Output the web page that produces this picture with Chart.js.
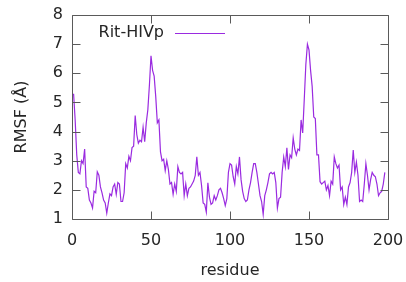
<!DOCTYPE html>
<html><head><meta charset="utf-8">
<script src="https://cdn.jsdelivr.net/npm/chart.js@4/dist/chart.umd.min.js"></script>
<style>html,body{margin:0;padding:0;background:#fff}#wrap{width:406px;height:282px}</style>
</head><body><div id="wrap"><canvas id="c" width="406" height="282"></canvas></div>
<script>
const seriesLabel = "Rit-HIVp";
const rmsf = [
 5.3,4.4,3.2,2.6,2.55,3.0,2.9,3.4,2.1,2.05,
 1.65,1.55,1.38,1.95,1.9,2.62,2.5,2.1,1.9,1.65,
 1.55,1.2,1.55,1.86,1.8,2.1,2.2,1.85,2.25,2.2,
 1.6,1.6,1.9,2.9,2.75,3.15,3.0,3.45,3.5,4.55,
 3.9,3.6,3.7,3.65,4.15,3.65,4.3,4.75,5.6,6.6,
 6.1,5.9,5.2,4.3,4.4,3.3,3.0,3.05,2.66,3.0,
 2.7,2.2,2.25,1.85,2.2,1.95,2.8,2.6,2.55,2.6,
 1.8,2.2,1.8,2.05,2.1,2.2,2.3,2.5,3.13,2.5,
 2.6,2.15,1.55,1.5,1.24,2.24,1.75,1.5,1.55,1.8,
 1.65,1.8,2.0,2.05,1.9,1.7,1.46,1.7,2.6,2.9,
 2.85,2.45,2.2,2.8,2.55,3.13,2.35,1.95,1.7,1.6,
 1.65,2.0,2.25,2.6,2.9,2.9,2.6,2.2,1.8,1.6,
 1.16,1.8,2.0,2.25,2.55,2.6,2.55,2.6,2.25,1.38,
 1.7,1.75,2.6,3.13,2.8,3.44,2.7,3.2,3.1,3.78,
 3.4,3.2,3.4,3.35,4.4,3.95,5.1,6.3,7.0,6.8,
 6.1,5.55,4.5,4.45,3.2,3.2,2.28,2.2,2.25,2.3,
 2.0,2.15,1.8,2.3,2.2,3.13,2.9,2.75,2.85,2.0,
 2.1,1.5,1.75,1.5,2.1,2.25,2.6,3.37,2.6,2.95,
 2.5,1.6,1.65,1.6,2.2,2.9,2.5,2.0,2.35,2.6,
 2.5,2.45,2.2,1.8,1.9,1.95,2.2,2.6
];
const firstResidue = 1;
const xTicks = [0, 50, 100, 150, 200];
const yTicks = [1, 2, 3, 4, 5, 6, 7, 8];
const xTitle = "residue";
const yTitle = "RMSF (Å)";

const points = rmsf.map((v, i) => ({x: firstResidue + i, y: v}));
const FONT = "DejaVu Sans";
const TXT = "#262626";
const LINE = "#9a2be0";

const framePlugin = {
  id: 'frame',
  afterDraw(chart) {
    const {ctx, chartArea: a, scales: {x, y}} = chart;
    ctx.save();
    ctx.strokeStyle = '#5a5a5a';
    ctx.lineWidth = 1;
    const L = Math.round(a.left) + 0.5, R = Math.round(a.right) + 0.5;
    const T = Math.round(a.top) + 0.5, B = Math.round(a.bottom) + 0.5;
    ctx.beginPath();
    ctx.rect(L, T, R - L, B - T);
    const tl = 8;
    yTicks.forEach(v => {
      const py = Math.round(y.getPixelForValue(v)) + 0.5;
      ctx.moveTo(L, py); ctx.lineTo(L + tl, py);
      ctx.moveTo(R, py); ctx.lineTo(R - tl, py);
    });
    xTicks.forEach(v => {
      const px = Math.round(x.getPixelForValue(v)) + 0.5;
      ctx.moveTo(px, B); ctx.lineTo(px, B - tl);
      ctx.moveTo(px, T); ctx.lineTo(px, T + tl);
    });
    ctx.stroke();
    // key
    ctx.font = '16px "' + FONT + '"';
    ctx.fillStyle = TXT;
    ctx.textAlign = 'right';
    ctx.textBaseline = 'middle';
    ctx.fillText(chart.data.datasets[0].label, 164, 33);
    ctx.strokeStyle = chart.data.datasets[0].borderColor;
    ctx.lineWidth = 1.2;
    ctx.beginPath();
    ctx.moveTo(175, 33.5); ctx.lineTo(225, 33.5);
    ctx.stroke();
    ctx.restore();
  }
};

new Chart(document.getElementById('c'), {
  type: 'line',
  data: { datasets: [{
    label: seriesLabel, data: points, borderColor: LINE, borderWidth: 1.2,
    pointRadius: 0, tension: 0, fill: false
  }]},
  options: {
    responsive: false, devicePixelRatio: 1, animation: false,
    layout: { padding: { top: 15, right: 18, bottom: 0, left: 0 } },
    plugins: { legend: { display: false }, tooltip: { enabled: false } },
    scales: {
      x: {
        type: 'linear', min: 0, max: 200,
        afterBuildTicks: s => { s.ticks = xTicks.map(v => ({value: v})); },
        afterFit: s => { s.height = 63; s.paddingLeft = 0; s.paddingRight = 0; },
        grid: { display: false, drawTicks: false }, border: { display: false },
        ticks: { color: TXT, font: { family: FONT, size: 16 }, padding: 12, maxRotation: 0 },
        title: { display: true, text: xTitle, color: TXT, font: { family: FONT, size: 16 }, padding: { top: 0, bottom: 2 } }
      },
      y: {
        min: 1, max: 8,
        afterBuildTicks: s => { s.ticks = yTicks.map(v => ({value: v})); },
        afterFit: s => { s.width = 72; s.paddingTop = 0; s.paddingBottom = 0; },
        grid: { display: false, drawTicks: false }, border: { display: false },
        ticks: { color: TXT, font: { family: FONT, size: 16 }, padding: 9 },
        title: { display: true, text: yTitle, color: TXT, font: { family: FONT, size: 16 }, padding: { top: 12, bottom: 0 } }
      }
    }
  },
  plugins: [framePlugin]
});
</script></body></html>
